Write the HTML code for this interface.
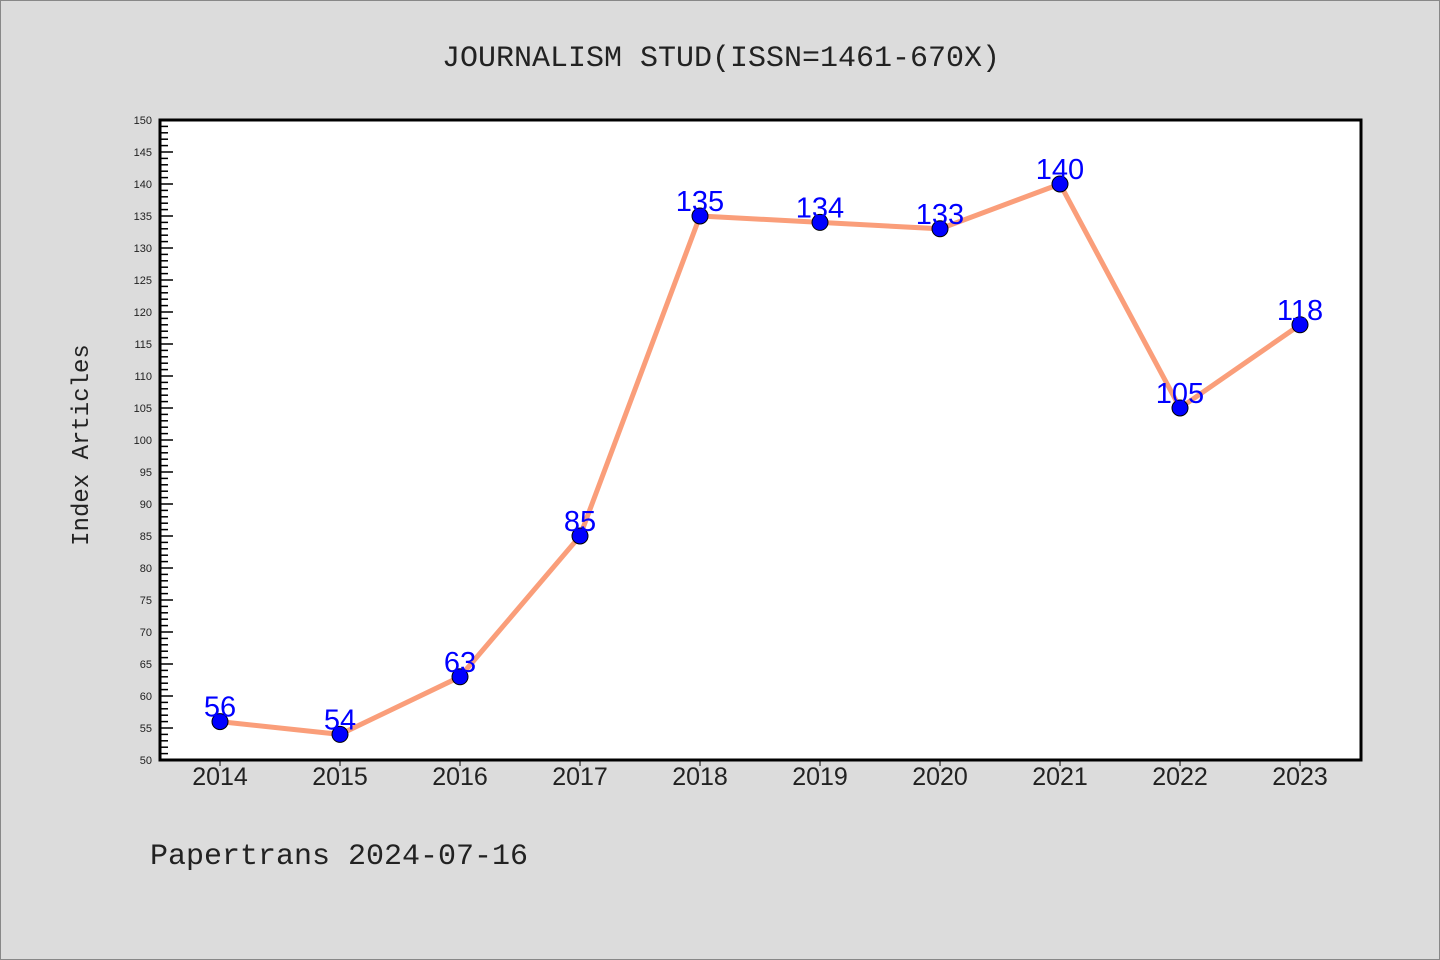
<!DOCTYPE html>
<html><head><meta charset="utf-8"><style>
body{margin:0;background:#dcdcdc;}
svg{display:block;font-family:"Liberation Sans",sans-serif;}
.mono{font-family:"Liberation Mono",monospace;}
</style></head><body>
<svg id="chart" width="1440" height="960">
<rect x="0.5" y="0.5" width="1439" height="959" fill="#dcdcdc" stroke="#888"/>
<text class="mono" x="721" y="66" text-anchor="middle" font-size="30" fill="#222">JOURNALISM STUD(ISSN=1461-670X)</text>
<rect x="160" y="120" width="1201" height="640" fill="#fff"/>
<g id="yticks"></g>
<g id="xticks"></g>
<g id="series"></g>
<rect x="160" y="120" width="1201" height="640" fill="none" stroke="#000" stroke-width="3"/>
<text class="mono" transform="translate(88,445) rotate(-90)" text-anchor="middle" font-size="24" fill="#222">Index Articles</text>
<text class="mono" x="150" y="864" font-size="30" fill="#222">Papertrans 2024-07-16</text>
</svg>
<script>
const years = ["2014","2015","2016","2017","2018","2019","2020","2021","2022","2023"];
const values = [56,54,63,85,135,134,133,140,105,118];
const yTickLabels = [50,55,60,65,70,75,80,85,90,95,100,105,110,115,120,125,130,135,140,145,150];
const NS="http://www.w3.org/2000/svg";
const yMin=50,yMax=150;
function yS(v){return 760-(v-yMin)/(yMax-yMin)*640;}
function xS(i){return 220+i*120;}
function mk(t,a,p){const e=document.createElementNS(NS,t);for(const k in a)e.setAttribute(k,a[k]);p.appendChild(e);return e;}
const yg=document.getElementById('yticks');
for(let v=yMin;v<=yMax;v++){
  const major=(v%5===0);
  const l=mk('line',{x1:160,x2:160+(major?13:8),y1:yS(v),y2:yS(v),stroke:'#000','stroke-width':1.5},yg);
  
  
}
yTickLabels.forEach(v=>{
  const t=mk('text',{x:152,y:yS(v)+4,'text-anchor':'end','font-size':11,fill:'#222'},yg);
  t.textContent=v;
  
  
});
const xg=document.getElementById('xticks');
years.forEach((y,i)=>{
  const l=mk('line',{x1:xS(i),x2:xS(i),y1:760,y2:766,stroke:'#000','stroke-width':1},xg);
  
  
  const t=mk('text',{x:xS(i),y:785,'text-anchor':'middle','font-size':25,fill:'#222'},xg);
  t.textContent=y;
  
  
});
const sg=document.getElementById('series');
const line=mk('polyline',{points:values.map((v,i)=>xS(i)+','+yS(v)).join(' '),fill:'none',stroke:'#fa9e7a','stroke-width':5},sg);


values.forEach((v,i)=>{
  const c=mk('circle',{cx:xS(i),cy:yS(v),r:8,fill:'#0000ff',stroke:'#000','stroke-width':1},sg);
  
  
  const t=mk('text',{x:xS(i),y:yS(v)-5,'text-anchor':'middle','font-size':29,fill:'#0000ff'},sg);
  t.textContent=v;
  
  
});
</script>
</body></html>
